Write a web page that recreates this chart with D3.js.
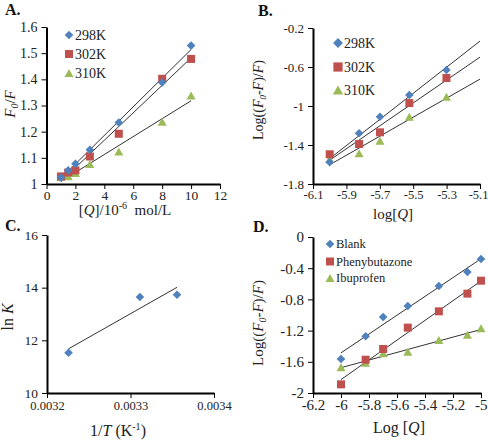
<!DOCTYPE html>
<html><head><meta charset="utf-8">
<script src="https://cdn.jsdelivr.net/npm/d3@7"></script>
<style>
body{margin:0;background:#fff;}
svg{display:block;font-family:"Liberation Serif","Times New Roman",serif;}
</style></head>
<body><svg id="c" width="488" height="440"></svg>
<script>
// ---- Panel A data ----
const concA = [1, 1.5, 2, 3, 5, 8, 10];
const a298 = [1.025, 1.052, 1.077, 1.131, 1.235, 1.388, 1.529];
const a302 = [1.029, 1.044, 1.052, 1.105, 1.192, 1.402, 1.478];
const a310 = [1.027, 1.03, 1.042, 1.076, 1.124, 1.238, 1.338];
const ticksAx = [0, 2, 4, 6, 8, 10, 12];
const ticksAy = [1, 1.1, 1.2, 1.3, 1.4, 1.5, 1.6];
// ---- Panel B data ----
const logQB = [-6, -5.824, -5.699, -5.523, -5.301];
const b298 = [-1.577, -1.28, -1.11, -0.887, -0.63];
const b302 = [-1.495, -1.39, -1.27, -0.97, -0.713];
const b310 = [-1.544, -1.485, -1.356, -1.11, -0.905];
const ticksBx = [-6.1, -5.9, -5.7, -5.5, -5.3, -5.1];
const ticksBy = [-1.8, -1.4, -1, -0.6, -0.2];
// ---- Panel C data ----
const invT = [1/310, 1/302, 1/298];
const lnK = [11.53, 13.645, 13.73];
const ticksCx = [0.0032, 0.0033, 0.0034];
const ticksCy = [10, 12, 14, 16];
// ---- Panel D data ----
const logQD = [-6, -5.824, -5.699, -5.523, -5.301, -5.097, -5];
const dBlank = [-1.564, -1.273, -1.026, -0.885, -0.628, -0.449, -0.282];
const dPheny = [-1.889, -1.573, -1.436, -1.162, -0.953, -0.726, -0.56];
const dIbu = [-1.671, -1.611, -1.491, -1.47, -1.321, -1.252, -1.171];
const ticksDx = [-6.2, -6, -5.8, -5.6, -5.4, -5.2, -5];
const ticksDy = [-2, -1.6, -1.2, -0.8, -0.4, 0];

const BLUE = "#4F81BD", RED = "#C0504D", GREEN = "#9BBB59";
const svg = d3.select("#c");
const fmt = d => String(+d.toFixed(5));

function fit(xs, ys){
  const n = xs.length, mx = d3.mean(xs), my = d3.mean(ys);
  let sxy = 0, sxx = 0;
  for (let i=0;i<n;i++){ sxy += (xs[i]-mx)*(ys[i]-my); sxx += (xs[i]-mx)**2; }
  const m = sxy/sxx; return x => my + m*(x-mx);
}
function marker(g, type, x, y, s){
  s = s || 1;
  let p;
  if (type === "d") { const r = 4.3*s; p = `M${x},${y-r}L${x+r},${y}L${x},${y+r}L${x-r},${y}Z`; g.append("path").attr("d", p).attr("fill", BLUE); }
  else if (type === "s") { const r = 4*s; g.append("rect").attr("x", x-r).attr("y", y-r).attr("width", 2*r).attr("height", 2*r).attr("fill", RED); }
  else { const w = 4.5*s, h = 4*s; p = `M${x},${y-h}L${x+w},${y+h}L${x-w},${y+h}Z`; g.append("path").attr("d", p).attr("fill", GREEN); }
}
function axes(x, y, tx, ty, fsx, fsy, padx){
  const gx = svg.append("g").attr("transform", `translate(0,${y.range()[0]})`)
    .call(d3.axisBottom(x).tickValues(tx).tickFormat(fmt).tickSize(5).tickSizeOuter(0).tickPadding(padx == null ? 1 : padx));
  gx.selectAll("text").attr("font-size", fsx).attr("font-family", "Liberation Serif").attr("fill", "#222");
  gx.select(".domain").attr("stroke-width", 1.8).attr("stroke", "#000");
  gx.selectAll(".tick line").attr("stroke", "#000");
  const gy = svg.append("g").attr("transform", `translate(${x.range()[0]},0)`)
    .call(d3.axisLeft(y).tickValues(ty).tickFormat(fmt).tickSize(5).tickSizeOuter(0).tickPadding(4));
  gy.selectAll("text").attr("font-size", fsy).attr("font-family", "Liberation Serif").attr("fill", "#222");
  gy.select(".domain").attr("stroke-width", 2).attr("stroke", "#000");
  gy.selectAll(".tick line").attr("stroke", "#000");
  return gx;
}
function trend(x, y, xs, ys, x0, x1){
  const f = fit(xs, ys);
  svg.append("line").attr("x1", x(x0)).attr("y1", y(f(x0))).attr("x2", x(x1)).attr("y2", y(f(x1)))
    .attr("stroke", "#333").attr("stroke-width", 1);
}
function series(x, y, xs, ys, type, s){
  const g = svg.append("g");
  xs.forEach((v,i) => marker(g, type, x(v), y(ys[i]), s));
}
function label(txt, x, y, size, weight){
  svg.append("text").attr("x", x).attr("y", y).attr("font-size", size).attr("font-weight", weight||"normal").attr("fill", "#111").text(txt);
}
function legend(x, y, items, fs, s){
  items.forEach(it => {
    marker(svg.append("g"), it[0], x, it[2], s);
    svg.append("text").attr("x", x + 6).attr("y", it[2] + fs*0.35).attr("font-size", fs).attr("fill", "#222").text(it[1]);
  });
}

// ===== Panel A =====
{
  const x = d3.scaleLinear().domain([0, 12]).range([46.5, 220]);
  const y = d3.scaleLinear().domain([1, 1.6]).range([184, 27]);
  axes(x, y, ticksAx, ticksAy, 13.5, 14);
  trend(x, y, concA, a298, 1, 10);
  trend(x, y, concA, a302, 1, 10);
  trend(x, y, concA, a310, 1, 10);
  series(x, y, concA, a310, "t");
  series(x, y, concA, a302, "s");
  series(x, y, concA, a298, "d");
  legend(69, 0, [["d","298K",35],["s","302K",54],["t","310K",73]], 14);
  label("A.", 5, 15, 16, "bold");
  const t = svg.append("text").attr("transform", "translate(15,104) rotate(-90)").attr("text-anchor", "middle").attr("font-size", 15).attr("fill", "#222");
  t.append("tspan").attr("font-style", "italic").text("F");
  t.append("tspan").attr("font-style", "italic").attr("font-size", 10).attr("dy", 3).text("0");
  t.append("tspan").attr("dy", -3).text("/");
  t.append("tspan").attr("font-style", "italic").text("F");
  const tx = svg.append("text").attr("x", 125).attr("y", 215).attr("text-anchor", "middle").attr("font-size", 15).attr("fill", "#222");
  tx.append("tspan").text("[");
  tx.append("tspan").attr("font-style", "italic").text("Q");
  tx.append("tspan").text("]/10");
  tx.append("tspan").attr("font-size", 10).attr("dy", -6).text("-6");
  tx.append("tspan").attr("dy", 6).text("\u00a0 mol/L");
}
// ===== Panel B =====
{
  const x = d3.scaleLinear().domain([-6.1, -5.1]).range([313, 480]);
  const y = d3.scaleLinear().domain([-1.8, -0.2]).range([184, 28]);
  const gx = axes(x, y, ticksBx, ticksBy, 12.5, 13);
  gx.selectAll(".tick text").filter(d => d === -5.1).attr("text-anchor", "end").attr("dx", 8);
  trend(x, y, logQB, b298, -6, -5.1);
  trend(x, y, logQB, b302, -6, -5.1);
  trend(x, y, logQB, b310, -6, -5.1);
  series(x, y, logQB, b310, "t");
  series(x, y, logQB, b302, "s");
  series(x, y, logQB, b298, "d");
  legend(338, 0, [["d","298K",43],["s","302K",67],["t","310K",90]], 14, 1.15);
  label("B.", 258, 16, 16, "bold");
  const t = svg.append("text").attr("transform", "translate(263,100) rotate(-90)").attr("text-anchor", "middle").attr("font-size", 14).attr("fill", "#222");
  t.append("tspan").text("Log((");
  t.append("tspan").attr("font-style", "italic").text("F");
  t.append("tspan").attr("font-style", "italic").attr("font-size", 9).attr("dy", 3).text("0");
  t.append("tspan").attr("dy", -3).text("-");
  t.append("tspan").attr("font-style", "italic").text("F");
  t.append("tspan").text(")/");
  t.append("tspan").attr("font-style", "italic").text("F");
  t.append("tspan").text(")");
  const tx = svg.append("text").attr("x", 393).attr("y", 219).attr("text-anchor", "middle").attr("font-size", 15).attr("fill", "#222");
  tx.append("tspan").text("log[");
  tx.append("tspan").attr("font-style", "italic").text("Q");
  tx.append("tspan").text("]");
}
// ===== Panel C =====
{
  const x = d3.scaleLinear().domain([0.0032, 0.0034]).range([47, 214]);
  const y = d3.scaleLinear().domain([10, 16]).range([393, 235]);
  axes(x, y, ticksCx, ticksCy, 12.5, 13.5, 3.5);
  trend(x, y, invT, lnK, d3.min(invT), d3.max(invT));
  series(x, y, invT, lnK, "d");
  label("C.", 5, 231, 16, "bold");
  const t = svg.append("text").attr("transform", "translate(13,317) rotate(-90)").attr("text-anchor", "middle").attr("font-size", 16).attr("fill", "#222");
  t.append("tspan").text("ln ");
  t.append("tspan").attr("font-style", "italic").text("K");
  const tx = svg.append("text").attr("x", 118).attr("y", 436).attr("text-anchor", "middle").attr("font-size", 16).attr("fill", "#222");
  tx.append("tspan").text("1/");
  tx.append("tspan").attr("font-style", "italic").text("T");
  tx.append("tspan").text(" (K");
  tx.append("tspan").attr("font-size", 10).attr("dy", -6).text("-1");
  tx.append("tspan").attr("dy", 6).text(")");
}
// ===== Panel D =====
{
  const x = d3.scaleLinear().domain([-6.2, -5]).range([313, 481]);
  const y = d3.scaleLinear().domain([-2, 0]).range([393, 237]);
  const gx = axes(x, y, ticksDx, ticksDy, 15, 15);
  gx.selectAll(".tick text").filter(d => d === -5).attr("text-anchor", "end").attr("dx", 6);
  trend(x, y, logQD, dBlank, -6, -5);
  trend(x, y, logQD, dPheny, -6, -5);
  trend(x, y, logQD, dIbu, -6, -5);
  series(x, y, logQD, dIbu, "t");
  series(x, y, logQD, dPheny, "s");
  series(x, y, logQD, dBlank, "d");
  legend(330, 0, [["d","Blank",244],["s","Phenybutazone",261.5],["t","Ibuprofen",278]], 12.5);
  label("D.", 253, 232, 16, "bold");
  const t = svg.append("text").attr("transform", "translate(263,323) rotate(-90)").attr("text-anchor", "middle").attr("font-size", 15).attr("fill", "#222");
  t.append("tspan").text("Log((");
  t.append("tspan").attr("font-style", "italic").text("F");
  t.append("tspan").attr("font-style", "italic").attr("font-size", 10).attr("dy", 3).text("0");
  t.append("tspan").attr("dy", -3).text("-");
  t.append("tspan").attr("font-style", "italic").text("F");
  t.append("tspan").text(")/");
  t.append("tspan").attr("font-style", "italic").text("F");
  t.append("tspan").text(")");
  const tx = svg.append("text").attr("x", 399).attr("y", 433).attr("text-anchor", "middle").attr("font-size", 16).attr("fill", "#222");
  tx.append("tspan").text("Log [");
  tx.append("tspan").attr("font-style", "italic").text("Q");
  tx.append("tspan").text("]");
}
</script></body></html>
